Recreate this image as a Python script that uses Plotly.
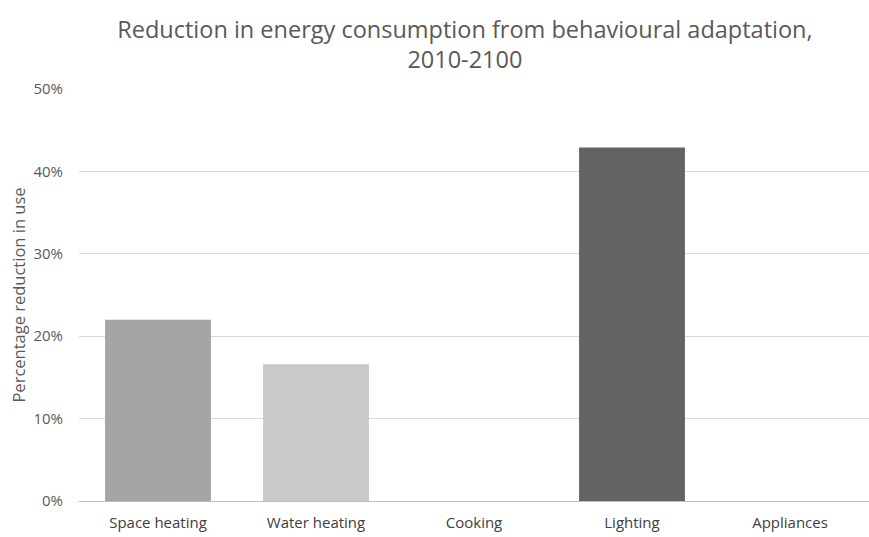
import plotly.graph_objects as go

categories = ["Space heating", "Water heating", "Cooking", "Lighting", "Appliances"]
reduction = [0.22, 0.166, 0, 0.429, 0]
bar_colors = ["#a5a5a5", "#c9c9c9", "#c9c9c9", "#636363", "#636363"]
y_ticks = [0, 0.1, 0.2, 0.3, 0.4, 0.5]
y_tick_labels = ["0%", "10%", "20%", "30%", "40%", "50%"]

fig = go.Figure()
fig.add_trace(go.Bar(
    x=categories,
    y=reduction,
    marker=dict(color=bar_colors, line=dict(width=0)),
    width=0.67,
))

fig.update_layout(
    width=869, height=537,
    paper_bgcolor="white", plot_bgcolor="white",
    margin=dict(l=79, r=0, t=89, b=36),
    font=dict(family="Open Sans, sans-serif", color="#595959"),
    title=dict(
        text="Reduction in energy consumption from behavioural adaptation,<br>2010-2100",
        x=0.535, xanchor="center", yref="container", y=0.93, yanchor="middle",
        font=dict(size=23.5, color="#595959"),
    ),
    showlegend=False,
)
fig.update_yaxes(
    range=[0, 0.5], tickvals=y_ticks, ticktext=y_tick_labels,
    showgrid=True, gridcolor="#d9d9d9", gridwidth=1,
    zeroline=False, showline=False, ticks="",
    tickfont=dict(size=15, color="#595959"), ticklabelstandoff=15,
    title=dict(text="Percentage reduction in use", font=dict(size=16.5, color="#595959"), standoff=3),
)
fig.update_xaxes(
    showline=True, linecolor="#bfbfbf", linewidth=1,
    tickfont=dict(size=15, color="#404040"), ticks="", ticklabelstandoff=8,
)

# drop the default page margin so the figure sits at the window's corner
fig.write_html("out.html", config={"displayModeBar": False},
               post_script="document.body.style.margin='0';")
